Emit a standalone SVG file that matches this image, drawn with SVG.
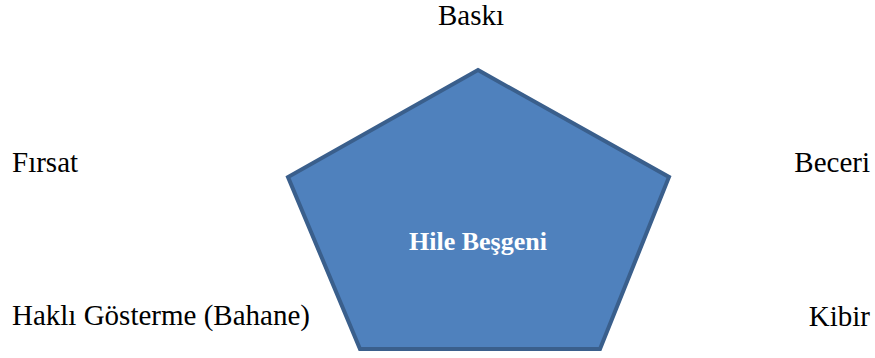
<svg xmlns="http://www.w3.org/2000/svg" width="875" height="358" viewBox="0 0 875 358">
<style>
.lbl{font-family:"Liberation Serif","Times New Roman",serif;font-size:29px;fill:#000}
.ctr{font-family:"Liberation Serif","Times New Roman",serif;font-size:26px;font-weight:bold;fill:#fff}
</style>
<rect width="875" height="358" fill="#fff"/>
<g id="pentagon">
<polygon points="478,70 669,177 600,349 360,349 288,177" fill="#4F81BD" stroke="#3A5F8C" stroke-width="4" stroke-linejoin="miter"/>
<text class="ctr" x="478" y="250" text-anchor="middle">Hile Beşgeni</text>
</g>
<g id="baski"><text class="lbl" x="471" y="25" text-anchor="middle">Baskı</text></g>
<g id="firsat"><text class="lbl" x="12" y="172">Fırsat</text></g>
<g id="beceri"><text class="lbl" x="870" y="172" text-anchor="end">Beceri</text></g>
<g id="hakli"><text class="lbl" x="12" y="325">Haklı Gösterme (Bahane)</text></g>
<g id="kibir"><text class="lbl" x="870" y="326" text-anchor="end">Kibir</text></g>
<g id="connectors"></g>
</svg>
